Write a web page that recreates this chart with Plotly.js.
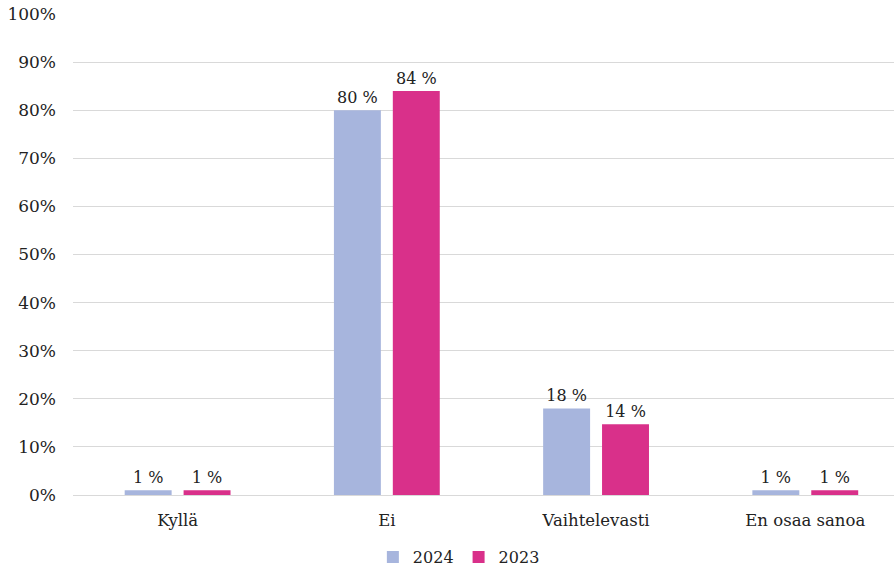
<!DOCTYPE html>
<html><head><meta charset="utf-8">
<script src="https://cdn.plot.ly/plotly-3.0.1.min.js"></script>
<style>html,body{margin:0;padding:0;background:#fff}#chart{width:894px;height:569px}</style>
</head><body><div id="chart"></div>
<script>
const categories = ["Kyllä", "Ei", "Vaihtelevasti", "En osaa sanoa"];
const values2024 = [1, 80, 18, 1];
const values2023 = [1, 84, 14.7, 1];
const labels2024 = ["1 %", "80 %", "18 %", "1 %"];
const labels2023 = ["1 %", "84 %", "14 %", "1 %"];
const yTickVals = [0,10,20,30,40,50,60,70,80,90,100];
const yTickText = ["0%","10%","20%","30%","40%","50%","60%","70%","80%","90%","100%"];

const font = "DejaVu Serif, Georgia, serif";
const traces = [
  {type:'bar', name:'2024', x:categories, y:values2024, text:labels2024,
   textposition:'outside', cliponaxis:false, textfont:{family:font,size:16,color:'#222'},
   marker:{color:'#A7B5DD'}, hoverinfo:'none'},
  {type:'bar', name:'2023', x:categories, y:values2023, text:labels2023,
   textposition:'outside', cliponaxis:false, textfont:{family:font,size:16,color:'#222'},
   marker:{color:'#D9308A'}, hoverinfo:'none'}
];
const layout = {
  width:894, height:569,
  margin:{l:73, r:0, t:14, b:74, autoexpand:false},
  paper_bgcolor:'#fff', plot_bgcolor:'#fff',
  font:{family:font, size:16, color:'#222'},
  barmode:'group', bargap:0.437, bargroupgap:0.203,
  xaxis:{type:'category', range:[-0.5, 3.424], showgrid:false, zeroline:false, automargin:false,
    showline:false, ticks:'', tickfont:{family:font,size:16.5,color:'#222'}, ticklabelstandoff:13},
  yaxis:{range:[0,100], tickvals:yTickVals, ticktext:yTickText, showgrid:true, automargin:false,
    gridcolor:'#d9d9d9', gridwidth:1, zeroline:true, zerolinecolor:'#d9d9d9', zerolinewidth:1,
    showline:false, ticks:'', tickfont:{family:font,size:17,color:'#222'}, ticklabelstandoff:16},
  showlegend:true,
  legend:{orientation:'h', x:0.47, xanchor:'center', y:-0.129, yanchor:'middle',
    font:{family:font,size:16,color:'#222'}, itemwidth:30, traceorder:'normal'}
};
Plotly.newPlot('chart', traces, layout, {staticPlot:true, displayModeBar:false});
</script></body></html>
